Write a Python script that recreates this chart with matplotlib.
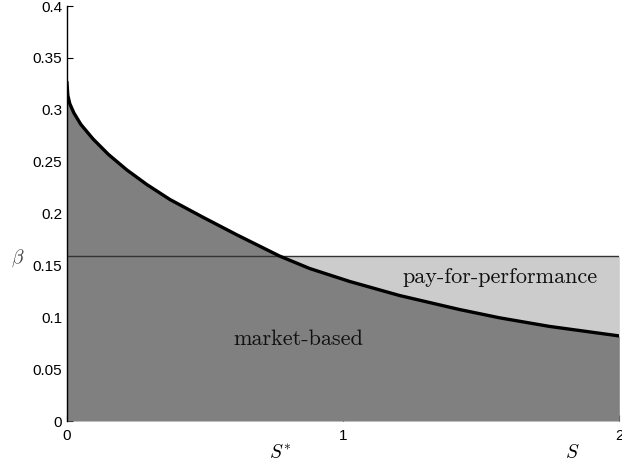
import numpy as np
import matplotlib
matplotlib.use('Agg')
import matplotlib.pyplot as plt

# curve beta(S)
S_vals = [0.0, 0.003, 0.01, 0.025, 0.05, 0.094, 0.15, 0.217, 0.289, 0.373,
          0.492, 0.615, 0.77, 0.879, 1.024, 1.204, 1.421, 1.566, 1.747, 2.0]
beta_vals = [0.326, 0.314, 0.306, 0.297, 0.286, 0.272, 0.257, 0.242, 0.228, 0.2135,
             0.1965, 0.1795, 0.159, 0.147, 0.1345, 0.121, 0.1075, 0.0995, 0.0912, 0.082]
beta_star = 0.159   # horizontal threshold
S_star = 0.77

yticks = [0, 0.05, 0.1, 0.15, 0.2, 0.25, 0.3, 0.35, 0.4]
ytick_labels = ['0', '0.05', '0.1', '0.15', '0.2', '0.25', '0.3', '0.35', '0.4']
xticks = [0, 1, 2]
xtick_labels = ['0', '1', '2']

plt.rcParams['mathtext.fontset'] = 'cm'
plt.rcParams['font.family'] = 'Liberation Sans'

fig = plt.figure(figsize=(6.22, 4.68), dpi=100)
ax = fig.add_axes([0.1077, 0.1004, 0.888, 0.8866])

S = np.array(S_vals)
b = np.array(beta_vals)
ax.fill_between(S, 0, b, color='#808080', lw=0, zorder=1)
ax.fill_between(S, b, beta_star, where=b <= beta_star + 1e-9, interpolate=True,
                color='#cccccc', lw=0, zorder=1)
ax.axhline(beta_star, color='#333333', lw=1.0, zorder=2)
ax.plot(S, b, color='black', lw=2.4, zorder=3, solid_joinstyle='round')

ax.set_xlim(0, 2)
ax.set_ylim(0, 0.4)
ax.set_xticks(xticks)
ax.set_xticklabels(xtick_labels)
ax.set_yticks(yticks)
ax.set_yticklabels(ytick_labels)
ax.tick_params(direction='in', length=4, width=0.8, labelsize=11)
ax.tick_params(axis='x', pad=6)
ax.tick_params(axis='y', pad=3.5)
ax.set_axisbelow(True)
ax.spines['top'].set_visible(False)
ax.spines['right'].set_visible(False)
ax.spines['bottom'].set_visible(False)
ax.spines['left'].set_linewidth(1.0)

ax.text(0.837, 0.073, 'market-based', family='cmr10', fontsize=16,
        ha='center', va='baseline', color='#111111')
ax.text(1.569, 0.133, 'pay-for-performance', family='cmr10', fontsize=16,
        ha='center', va='baseline', color='#111111')

ax.text(-0.178, 0.157, r'$\beta$', fontsize=14, ha='center', va='center',
        color='#444444', clip_on=False)
ax.text(S_star, -0.031, r'$S^{*}$', fontsize=14, ha='center', va='center', clip_on=False)
ax.text(1.83, -0.031, r'$S$', fontsize=14, ha='center', va='center', clip_on=False)

fig.savefig('out.png', dpi=100)
